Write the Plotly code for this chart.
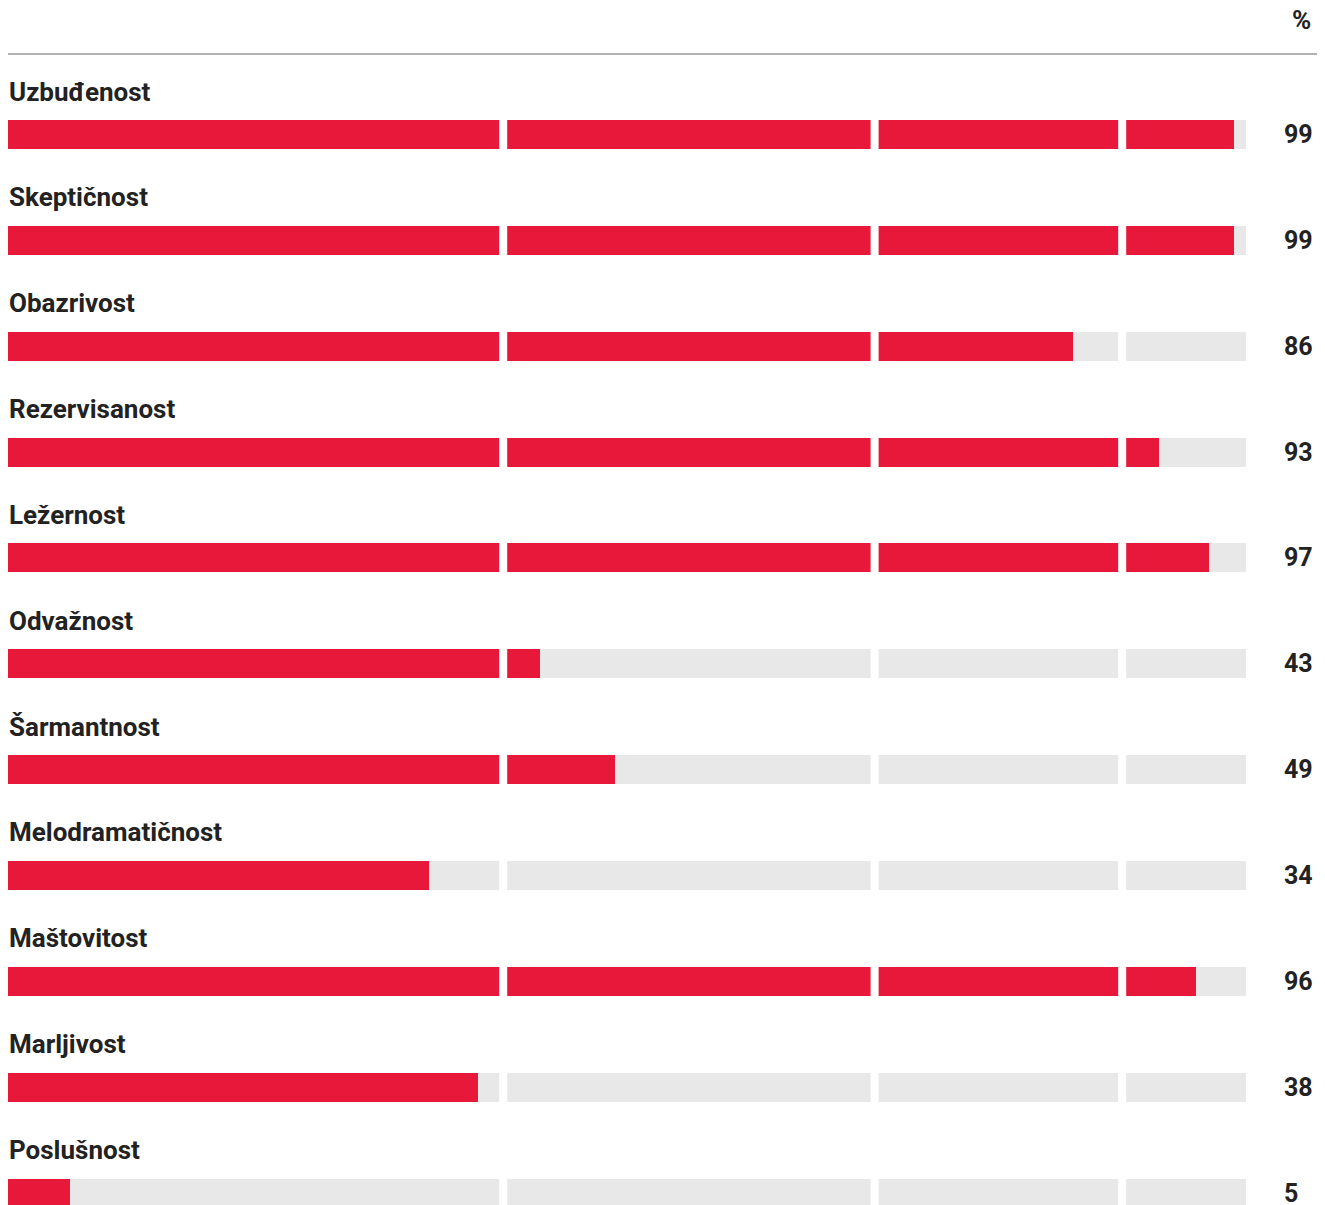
import plotly.graph_objects as go

categories = ["Uzbuđenost", "Skeptičnost", "Obazrivost", "Rezervisanost", "Ležernost",
              "Odvažnost", "Šarmantnost", "Melodramatičnost", "Maštovitost", "Marljivost", "Poslušnost"]
values = [99, 99, 86, 93, 97, 43, 49, 34, 96, 38, 5]
segment_breaks = [40, 70, 90]
unit_label = "%"

# figure coordinates (page is offset by the 8px body margin)
W, H = 1317, 1197
L, R = 0, 1238
PITCH = 105.85
FIRST = 126.5

def ypx(px):
    return (px - FIRST) / PITCH

RED = "#e8183a"
GRAY = "#e8e8e8"
TEXT = "#222222"
FONT = "Roboto"

ys = list(range(len(categories)))
fig = go.Figure()
fig.add_trace(go.Bar(y=ys, x=[100] * len(ys), orientation="h", marker=dict(color=GRAY, line=dict(width=0)),
                     width=29 / PITCH, hoverinfo="skip"))
fig.add_trace(go.Bar(y=ys, x=values, orientation="h", marker=dict(color=RED, line=dict(width=0)),
                     width=29 / PITCH, hoverinfo="skip"))

shapes = []
for b in segment_breaks:
    shapes.append(dict(type="line", xref="x", yref="paper", x0=b, x1=b, y0=0, y1=1,
                       line=dict(color="white", width=8), layer="above"))
shapes.append(dict(type="line", xref="paper", yref="y", x0=0, x1=(W - L) / (R - L),
                   y0=ypx(46), y1=ypx(46), line=dict(color="#999999", width=1.6)))

ann = []
for i, (c, v) in enumerate(zip(categories, values)):
    ann.append(dict(x=0, y=i - 43 / PITCH, xref="x", yref="y", text=c, showarrow=False,
                    xanchor="left", yanchor="middle", xshift=-1,
                    font=dict(family=FONT, size=26, color=TEXT, weight="bold")))
    ann.append(dict(x=(1276 - L) / (R - L), y=i, xref="paper", yref="y", text=str(v), showarrow=False,
                    xanchor="left", yanchor="middle", xshift=-2,
                    font=dict(family=FONT, size=25, color=TEXT, weight="bold")))
ann.append(dict(x=(1303 - L) / (R - L), y=ypx(11.5), xref="paper", yref="y", text=unit_label, showarrow=False,
                xanchor="right", yanchor="middle", xshift=2,
                font=dict(family=FONT, size=26, color=TEXT, weight="bold")))

fig.update_layout(
    width=W, height=H, margin=dict(l=L, r=W - R, t=0, b=0),
    paper_bgcolor="white", plot_bgcolor="white",
    barmode="overlay", bargap=0, showlegend=False,
    xaxis=dict(range=[0, 100], visible=False, fixedrange=True),
    yaxis=dict(range=[ypx(H), ypx(0)], visible=False, fixedrange=True),
    shapes=shapes, annotations=ann,
)
fig.write_html("out.html", config={"displayModeBar": False})
